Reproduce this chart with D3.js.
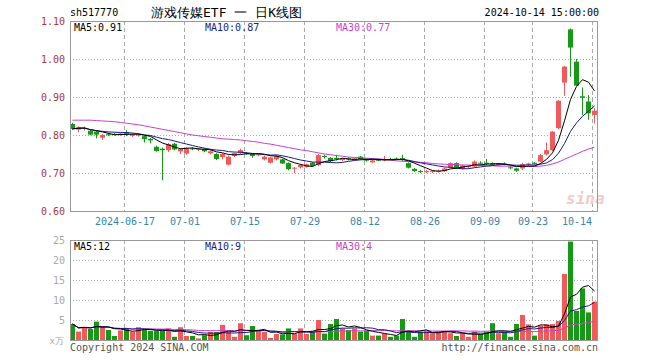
<!DOCTYPE html>
<html><head><meta charset="utf-8">
<script src="https://cdn.jsdelivr.net/npm/d3@7"></script>
<style>
body{margin:0;background:#fff}
svg{display:block}
text{font-family:"DejaVu Sans Mono",monospace}
</style>
</head><body>
<svg id="c" width="660" height="360"></svg>
<script>
// ---------------- data ----------------
const dates = ["06-03","06-04","06-05","06-06","06-07","06-11","06-12","06-13","06-14","06-17","06-18","06-19","06-20","06-21","06-24","06-25","06-26","06-27","06-28",
"07-01","07-02","07-03","07-04","07-05","07-08","07-09","07-10","07-11","07-12","07-15","07-16","07-17","07-18","07-19","07-22","07-23","07-24","07-25","07-26","07-29","07-30","07-31",
"08-01","08-02","08-05","08-06","08-07","08-08","08-09","08-12","08-13","08-14","08-15","08-16","08-19","08-20","08-21","08-22","08-23","08-26","08-27","08-28","08-29","08-30",
"09-02","09-03","09-04","09-05","09-06","09-09","09-10","09-11","09-12","09-13","09-18","09-19","09-20","09-23","09-24","09-25","09-26","09-27","09-30",
"10-08","10-09","10-10","10-11","10-14"];
const open  = [0.829,0.814,0.816,0.811,0.809,0.793,0.802,0.803,0.800,0.807,0.798,0.799,0.797,0.790,0.769,0.764,0.760,0.777,0.757,
0.751,0.765,0.762,0.763,0.752,0.750,0.742,0.722,0.745,0.752,0.752,0.750,0.747,0.736,0.727,0.736,0.736,0.726,0.712,0.715,0.716,0.727,0.721,
0.745,0.740,0.740,0.734,0.739,0.734,0.743,0.735,0.728,0.735,0.733,0.737,0.738,0.739,0.726,0.711,0.705,0.702,0.703,0.704,0.705,0.714,
0.726,0.711,0.716,0.717,0.727,0.727,0.726,0.721,0.725,0.715,0.712,0.712,0.722,0.727,0.730,0.749,0.760,0.818,0.938,
1.078,0.993,0.902,0.888,0.853];
const high  = [0.832,0.823,0.822,0.814,0.812,0.803,0.806,0.806,0.806,0.813,0.804,0.804,0.799,0.792,0.772,0.767,0.779,0.779,0.765,
0.768,0.768,0.766,0.765,0.760,0.752,0.753,0.746,0.754,0.764,0.755,0.752,0.751,0.746,0.743,0.747,0.738,0.728,0.716,0.723,0.725,0.729,0.750,
0.748,0.742,0.748,0.740,0.742,0.740,0.745,0.738,0.736,0.738,0.745,0.740,0.741,0.748,0.728,0.713,0.708,0.708,0.707,0.709,0.714,0.728,
0.728,0.722,0.720,0.733,0.731,0.737,0.728,0.726,0.728,0.718,0.714,0.727,0.727,0.729,0.750,0.780,0.810,0.892,0.982,
1.080,1.000,0.925,0.905,0.870];
const low   = [0.814,0.807,0.812,0.799,0.791,0.787,0.797,0.799,0.798,0.797,0.795,0.796,0.780,0.778,0.756,0.681,0.755,0.760,0.750,
0.748,0.760,0.758,0.755,0.749,0.734,0.736,0.720,0.742,0.750,0.748,0.740,0.744,0.733,0.725,0.733,0.724,0.707,0.700,0.712,0.714,0.716,0.718,
0.738,0.728,0.733,0.731,0.733,0.732,0.735,0.730,0.726,0.732,0.731,0.734,0.735,0.730,0.712,0.703,0.700,0.700,0.700,0.701,0.703,0.712,
0.712,0.709,0.712,0.715,0.722,0.720,0.719,0.718,0.720,0.710,0.703,0.708,0.718,0.722,0.728,0.746,0.758,0.815,0.903,
0.953,0.930,0.853,0.840,0.830];
const close = [0.816,0.820,0.819,0.801,0.801,0.800,0.800,0.801,0.804,0.803,0.802,0.801,0.789,0.786,0.758,0.760,0.776,0.762,0.763,
0.765,0.763,0.764,0.757,0.757,0.737,0.750,0.743,0.752,0.760,0.750,0.745,0.749,0.743,0.741,0.744,0.725,0.710,0.714,0.721,0.723,0.718,0.747,
0.742,0.731,0.737,0.737,0.736,0.738,0.737,0.733,0.733,0.734,0.736,0.736,0.737,0.737,0.714,0.705,0.703,0.705,0.705,0.706,0.712,0.726,
0.714,0.720,0.718,0.730,0.725,0.724,0.722,0.724,0.722,0.713,0.706,0.723,0.725,0.724,0.747,0.760,0.809,0.890,0.980,
1.030,0.930,0.898,0.857,0.864];
// volume in 万
const volume = [4.0,2.1,3.3,2.75,4.6,3.3,2.5,1.0,2.4,3.0,2.1,3.2,2.5,2.3,2.3,2.3,2.9,0.8,3.2,1.0,1.0,0.4,1.2,2.0,2.0,3.8,2.1,0.8,4.2,1.2,
3.5,2.4,2.0,0.5,1.5,1.4,2.9,1.6,2.9,1.5,2.1,5.0,1.6,4.0,5.25,2.9,2.5,2.9,2.1,2.3,1.1,1.1,1.6,0.8,1.1,5.25,2.25,0.8,2.1,2.3,
1.7,2.1,2.3,1.7,1.0,1.7,0.8,2.1,1.4,2.1,4.2,1.7,2.1,0.8,4.0,6.25,3.9,1.1,3.6,3.9,4.0,4.75,16.5,24.6,7.25,12.9,6.9,9.6];
// 30-day price MA (needs history before the window)
const priceMA30 = [0.839,0.839,0.839,0.839,0.838,0.837,0.836,0.835,0.833,0.831,0.829,0.827,0.824,0.821,0.818,0.815,0.812,0.809,0.806,0.803,
0.800,0.798,0.796,0.794,0.792,0.790,0.789,0.788,0.787,0.785,0.783,0.781,0.778,0.776,0.773,0.770,0.767,0.764,0.761,0.759,
0.756,0.753,0.750,0.748,0.746,0.744,0.742,0.741,0.740,0.739,0.738,0.737,0.736,0.734,0.732,0.731,0.730,0.729,0.728,0.727,
0.725,0.724,0.723,0.722,0.722,0.721,0.721,0.720,0.720,0.719,0.719,0.718,0.718,0.718,0.717,0.717,0.717,0.717,0.718,0.720,
0.724,0.729,0.736,0.743,0.750,0.757,0.763,0.768];
const priceTicks = [0.60,0.70,0.80,0.90,1.00,1.10];
const volTicks = [5,10,15,20,25];
const tickDates = ["06-17","07-01","07-15","07-29","08-12","08-26","09-09","09-23","10-14"];
const tickLabels = ["2024-06-17","07-01","07-15","07-29","08-12","08-26","09-09","09-23","10-14"];
const priceLegend = ["MA5:0.91","MA10:0.87","MA30:0.77"];
const volLegend = ["MA5:12","MA10:9","MA30:4"];
const header = {code:"sh517770", title:"游戏传媒ETF 一 日K线图", time:"2024-10-14 15:00:00"};

// ---------------- drawing ----------------
const svg = d3.select("#c");
const L = 70, R = 598, PT = 21, PB = 211, VT = 240, VB = 340;
const n = dates.length;
const x = d3.scaleLinear().domain([0, n]).range([L, R]);
const yP = d3.scaleLinear().domain([0.6, 1.1]).range([PB, PT]);
const yV = d3.scaleLinear().domain([0, 25]).range([VB, VT]);
const UP = "#f05a5a", DOWN = "#169a16";
const C_MA5 = "#000000", C_MA10 = "#1a1a8a", C_MA30 = "#cc3fcc";

function ma(arr, k){ return arr.map((_, i) => { const s = arr.slice(Math.max(0, i-k+1), i+1); return d3.mean(s); }); }

// grids
const tickIdx = tickDates.map(d => dates.indexOf(d));
const grid = svg.append("g");
[[PT,PB],[VT,VB]].forEach(([t,b]) => {
  grid.selectAll(null).data(tickIdx).join("line")
    .attr("x1", i => Math.round(x(i)) + 0.5).attr("x2", i => Math.round(x(i)) + 0.5)
    .attr("y1", t).attr("y2", b).attr("stroke", "#aaa").attr("stroke-dasharray", "4,3");
});
grid.selectAll(null).data(priceTicks.slice(1, -1)).join("line")
  .attr("x1", L).attr("x2", R).attr("y1", d => Math.round(yP(d)) + 0.5).attr("y2", d => Math.round(yP(d)) + 0.5)
  .attr("stroke", "#aaa").attr("stroke-dasharray", "1,2");
grid.selectAll(null).data(volTicks.slice(0, -1)).join("line")
  .attr("x1", L).attr("x2", R).attr("y1", d => Math.round(yV(d)) + 0.5).attr("y2", d => Math.round(yV(d)) + 0.5)
  .attr("stroke", "#aaa").attr("stroke-dasharray", "1,2");

// watermark
svg.append("text").attr("x", 566).attr("y", 204).text("sina")
  .attr("font-family", "DejaVu Sans").attr("font-style", "italic").attr("font-weight", "bold")
  .attr("font-size", 16).attr("fill", "#f3caca");

// candles
const cg = svg.append("g");
const idx = d3.range(n);
const col = i => close[i] >= open[i] ? UP : DOWN;
cg.selectAll("line.w").data(idx).join("line").attr("class", "w")
  .attr("x1", i => Math.round(x(i)) + 2.5).attr("x2", i => Math.round(x(i)) + 2.5)
  .attr("y1", i => yP(high[i])).attr("y2", i => yP(low[i])).attr("stroke", col);
cg.selectAll("rect").data(idx).join("rect")
  .attr("x", i => Math.round(x(i))).attr("width", 5)
  .attr("y", i => yP(Math.max(open[i], close[i])))
  .attr("height", i => Math.max(1, Math.abs(yP(open[i]) - yP(close[i]))))
  .attr("fill", col);

// price MAs
const pLine = arr => d3.line().x((d, i) => Math.round(x(i)) + 2.5).y(d => yP(d))(arr);
svg.append("path").attr("d", pLine(priceMA30)).attr("fill", "none").attr("stroke", C_MA30);
svg.append("path").attr("d", pLine(ma(close, 10))).attr("fill", "none").attr("stroke", C_MA10);
svg.append("path").attr("d", pLine(ma(close, 5))).attr("fill", "none").attr("stroke", C_MA5);

// volume bars
svg.append("g").selectAll("rect").data(idx).join("rect")
  .attr("x", i => Math.round(x(i))).attr("width", 5)
  .attr("y", i => yV(volume[i])).attr("height", i => VB - yV(volume[i]))
  .attr("fill", col);
const vLine = arr => d3.line().x((d, i) => Math.round(x(i)) + 2.5).y(d => yV(d))(arr);
svg.append("path").attr("d", vLine(ma(volume, 30))).attr("fill", "none").attr("stroke", C_MA30);
svg.append("path").attr("d", vLine(ma(volume, 10))).attr("fill", "none").attr("stroke", C_MA10);
svg.append("path").attr("d", vLine(ma(volume, 5))).attr("fill", "none").attr("stroke", C_MA5);

// frames
[[PT,PB],[VT,VB]].forEach(([t,b]) => {
  svg.append("rect").attr("x", L + 0.5).attr("y", t + 0.5).attr("width", R - L - 1).attr("height", b - t)
    .attr("fill", "none").attr("stroke", "#999");
});

// axes
const ax = svg.append("g").attr("transform", `translate(${L},0)`)
  .call(d3.axisLeft(yP).tickValues(priceTicks).tickFormat(d3.format(".2f")).tickSize(0).tickPadding(5));
ax.select(".domain").remove();
ax.selectAll("text").attr("font-family", "DejaVu Sans Mono").attr("font-size", 10).attr("fill", "#a83a3a");

const av = svg.append("g").attr("transform", `translate(${L},0)`)
  .call(d3.axisLeft(yV).tickValues(volTicks).tickFormat(d3.format("d")).tickSize(0).tickPadding(5));
av.select(".domain").remove();
av.selectAll("text").attr("font-family", "DejaVu Sans Mono").attr("font-size", 10).attr("fill", "#aaa");
svg.append("text").attr("x", 64).attr("y", 344).attr("text-anchor", "end").text("x万")
  .attr("font-family", "Noto Sans CJK SC").attr("font-size", 9).attr("fill", "#aaa");

const xt = d3.scaleOrdinal().domain(tickDates).range(tickIdx.map(i => Math.round(x(i)) + 0.5));
const ad = svg.append("g").attr("transform", `translate(0,${PB})`)
  .call(d3.axisBottom(xt).tickFormat((d, k) => tickLabels[k]).tickSize(0).tickPadding(7));
ad.select(".domain").remove();
ad.selectAll("text").attr("font-family", "DejaVu Sans Mono").attr("font-size", 10).attr("fill", "#3388aa");
// keep the last date label inside the frame
ad.selectAll(".tick").filter((d, k, nodes) => k === nodes.length - 1).select("text")
  .attr("text-anchor", "end").attr("x", -1);

// legends
const legX = [74, 205, 336], legC = [C_MA5, C_MA10, C_MA30];
svg.selectAll("text.pl").data(priceLegend).join("text").attr("class", "pl")
  .attr("x", (d, k) => legX[k]).attr("y", 31).text(d => d)
  .attr("font-size", 10).attr("fill", (d, k) => legC[k]);
svg.selectAll("text.vl").data(volLegend).join("text").attr("class", "vl")
  .attr("x", (d, k) => legX[k]).attr("y", 250).text(d => d)
  .attr("font-size", 10).attr("fill", (d, k) => legC[k]);

// header + footer
svg.append("text").attr("x", 70).attr("y", 16).text(header.code).attr("font-size", 10).attr("fill", "#000");
svg.append("text").attr("x", 151).attr("y", 17).text(header.title)
  .attr("font-family", "Noto Sans CJK SC").attr("font-size", 13).attr("fill", "#000");
svg.append("text").attr("x", 599).attr("y", 16).attr("text-anchor", "end").text(header.time).attr("font-size", 10).attr("fill", "#000");
svg.append("text").attr("x", 70).attr("y", 351).text("Copyright 2024 SINA.COM").attr("font-size", 10).attr("fill", "#555");
svg.append("text").attr("x", 598).attr("y", 351).attr("text-anchor", "end").text("http://finance.sina.com.cn").attr("font-size", 10).attr("fill", "#555");
</script>
</body></html>
